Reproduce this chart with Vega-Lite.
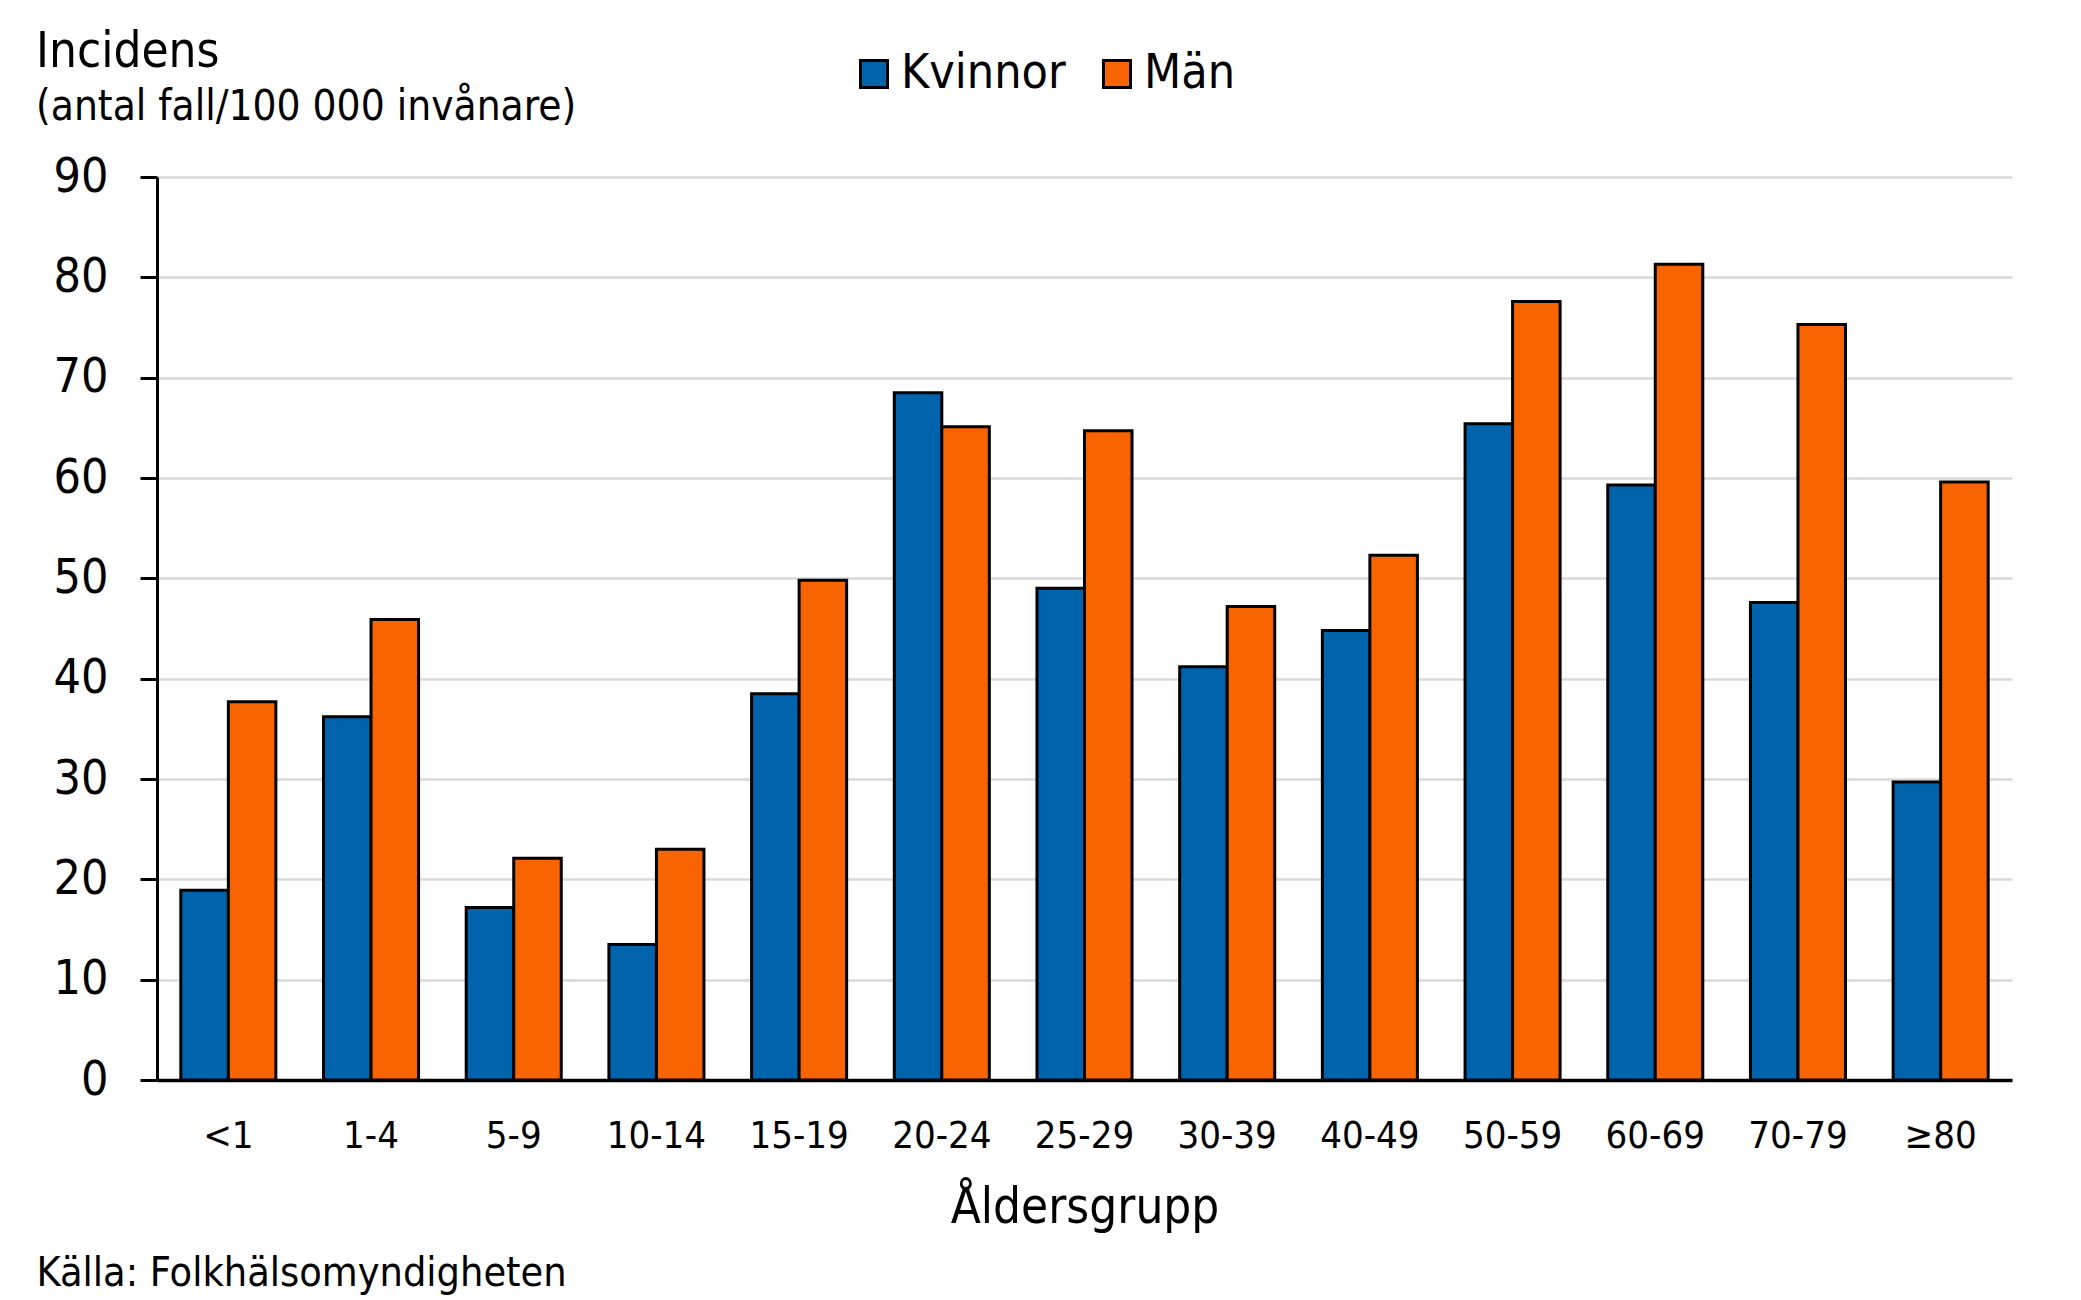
{
  "$schema": "https://vega.github.io/schema/vega-lite/v6.json",
  "autosize": {"type": "none"},
  "width": 1855,
  "height": 903,
  "padding": {"left": 157, "top": 177, "right": 69, "bottom": 220},
  "background": "white",
  "title": {
    "text": "Incidens",
    "subtitle": "(antal fall/100 000 invånare)",
    "anchor": "start",
    "frame": "group",
    "dx": -121,
    "dy": 98,
    "fontSize": 49,
    "fontWeight": "normal",
    "subtitleFontSize": 42,
    "subtitlePadding": 10,
    "color": "black",
    "subtitleColor": "black",
    "offset": 20
  },
  "data": {
    "values": [
      {"Ålder": "<1", "Kön": "Kvinnor", "Incidens": 18.9},
      {"Ålder": "<1", "Kön": "Män", "Incidens": 37.7},
      {"Ålder": "1-4", "Kön": "Kvinnor", "Incidens": 36.2},
      {"Ålder": "1-4", "Kön": "Män", "Incidens": 45.9},
      {"Ålder": "5-9", "Kön": "Kvinnor", "Incidens": 17.2},
      {"Ålder": "5-9", "Kön": "Män", "Incidens": 22.1},
      {"Ålder": "10-14", "Kön": "Kvinnor", "Incidens": 13.5},
      {"Ålder": "10-14", "Kön": "Män", "Incidens": 23.0},
      {"Ålder": "15-19", "Kön": "Kvinnor", "Incidens": 38.5},
      {"Ålder": "15-19", "Kön": "Män", "Incidens": 49.8},
      {"Ålder": "20-24", "Kön": "Kvinnor", "Incidens": 68.5},
      {"Ålder": "20-24", "Kön": "Män", "Incidens": 65.1},
      {"Ålder": "25-29", "Kön": "Kvinnor", "Incidens": 49.0},
      {"Ålder": "25-29", "Kön": "Män", "Incidens": 64.7},
      {"Ålder": "30-39", "Kön": "Kvinnor", "Incidens": 41.2},
      {"Ålder": "30-39", "Kön": "Män", "Incidens": 47.2},
      {"Ålder": "40-49", "Kön": "Kvinnor", "Incidens": 44.8},
      {"Ålder": "40-49", "Kön": "Män", "Incidens": 52.3},
      {"Ålder": "50-59", "Kön": "Kvinnor", "Incidens": 65.4},
      {"Ålder": "50-59", "Kön": "Män", "Incidens": 77.6},
      {"Ålder": "60-69", "Kön": "Kvinnor", "Incidens": 59.3},
      {"Ålder": "60-69", "Kön": "Män", "Incidens": 81.3},
      {"Ålder": "70-79", "Kön": "Kvinnor", "Incidens": 47.6},
      {"Ålder": "70-79", "Kön": "Män", "Incidens": 75.3},
      {"Ålder": "≥80", "Kön": "Kvinnor", "Incidens": 29.7},
      {"Ålder": "≥80", "Kön": "Män", "Incidens": 59.6}
    ]
  },
  "mark": {"type": "bar", "stroke": "black", "strokeWidth": 3},
  "encoding": {
    "x": {
      "field": "Ålder",
      "type": "nominal",
      "sort": null,
      "scale": {"paddingInner": 0.334, "paddingOuter": 0.167},
      "axis": {
        "title": "Åldersgrupp",
        "titleFontSize": 49,
        "titleFontWeight": "normal",
        "titleColor": "black",
        "titleBaseline": "alphabetic",
        "titleY": 142,
        "labelAngle": 0,
        "labelFontSize": 38,
        "labelColor": "black",
        "labelPadding": 37,
        "ticks": false,
        "domainColor": "black",
        "domainWidth": 3.5,
        "grid": false
      }
    },
    "xOffset": {"field": "Kön", "type": "nominal", "sort": ["Kvinnor", "Män"], "scale": {"paddingInner": 0, "paddingOuter": 0}},
    "y": {
      "field": "Incidens",
      "type": "quantitative",
      "scale": {"domain": [0, 90], "nice": false},
      "axis": {
        "values": [0, 10, 20, 30, 40, 50, 60, 70, 80, 90],
        "title": "Källa: Folkhälsomyndigheten",
        "titleAngle": 0,
        "titleAlign": "left",
        "titleBaseline": "alphabetic",
        "titleX": -121,
        "titleY": 1108,
        "titleFontSize": 41,
        "titleFontWeight": "normal",
        "titleColor": "black",
        "labelFontSize": 48,
        "labelColor": "black",
        "labelPadding": 32,
        "tickSize": 17,
        "tickWidth": 3,
        "tickColor": "black",
        "domainColor": "black",
        "domainWidth": 3,
        "gridColor": "#D9D9D9",
        "gridWidth": 2.5
      }
    },
    "color": {
      "field": "Kön",
      "type": "nominal",
      "sort": ["Kvinnor", "Män"],
      "scale": {"domain": ["Kvinnor", "Män"], "range": ["#0064AC", "#F86400"]},
      "legend": {
        "title": null,
        "orient": "none",
        "direction": "horizontal",
        "legendX": 693,
        "legendY": -127,
        "symbolType": "square",
        "symbolSize": 729,
        "symbolStrokeColor": "black",
        "symbolStrokeWidth": 3,
        "symbolOpacity": 1,
        "labelFontSize": 48,
        "labelColor": "black",
        "labelOffset": 3,
        "labelLimit": 0,
        "columnPadding": 27
      }
    }
  },
  "config": {
    "font": "'DejaVu Sans Condensed', 'DejaVu Sans'",
    "view": {"stroke": null},
    "axis": {"labelFont": "'DejaVu Sans Condensed', 'DejaVu Sans'", "titleFont": "'DejaVu Sans Condensed', 'DejaVu Sans'"},
    "legend": {"labelFont": "'DejaVu Sans Condensed', 'DejaVu Sans'"},
    "title": {"font": "'DejaVu Sans Condensed', 'DejaVu Sans'", "subtitleFont": "'DejaVu Sans Condensed', 'DejaVu Sans'"}
  }
}
